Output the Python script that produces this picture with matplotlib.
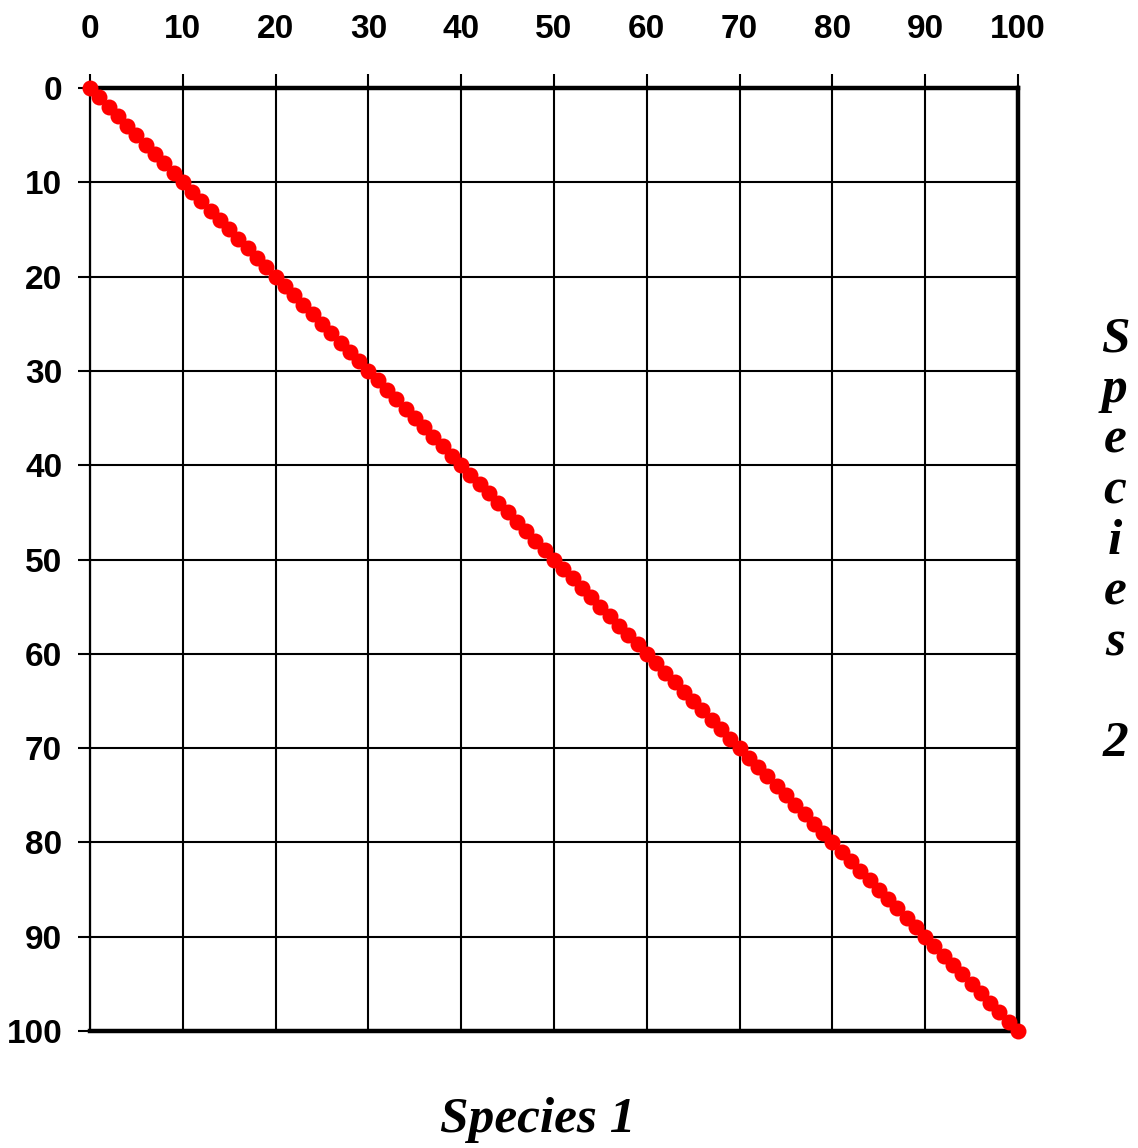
import matplotlib
matplotlib.use("Agg")
import matplotlib.pyplot as plt

# Data: abundance of species 1 vs species 2 (one point per unit)
species1 = [0, 1, 2, 3, 4, 5, 6, 7, 8, 9, 10, 11, 12, 13, 14, 15, 16, 17, 18, 19,
            20, 21, 22, 23, 24, 25, 26, 27, 28, 29, 30, 31, 32, 33, 34, 35, 36, 37, 38, 39,
            40, 41, 42, 43, 44, 45, 46, 47, 48, 49, 50, 51, 52, 53, 54, 55, 56, 57, 58, 59,
            60, 61, 62, 63, 64, 65, 66, 67, 68, 69, 70, 71, 72, 73, 74, 75, 76, 77, 78, 79,
            80, 81, 82, 83, 84, 85, 86, 87, 88, 89, 90, 91, 92, 93, 94, 95, 96, 97, 98, 99, 100]
species2 = [0, 1, 2, 3, 4, 5, 6, 7, 8, 9, 10, 11, 12, 13, 14, 15, 16, 17, 18, 19,
            20, 21, 22, 23, 24, 25, 26, 27, 28, 29, 30, 31, 32, 33, 34, 35, 36, 37, 38, 39,
            40, 41, 42, 43, 44, 45, 46, 47, 48, 49, 50, 51, 52, 53, 54, 55, 56, 57, 58, 59,
            60, 61, 62, 63, 64, 65, 66, 67, 68, 69, 70, 71, 72, 73, 74, 75, 76, 77, 78, 79,
            80, 81, 82, 83, 84, 85, 86, 87, 88, 89, 90, 91, 92, 93, 94, 95, 96, 97, 98, 99, 100]
ticks = [0, 10, 20, 30, 40, 50, 60, 70, 80, 90, 100]
tick_labels = ["0", "10", "20", "30", "40", "50", "60", "70", "80", "90", "100"]
xlabel = "Species 1"
ylabel_stacked = "S\np\ne\nc\ni\ne\ns\n \n2"

W, H = 1138, 1148
fig = plt.figure(figsize=(W / 100, H / 100), dpi=100)
ax = fig.add_axes([90 / W, 1 - 1031 / H, (1018 - 90) / W, (1031 - 88) / H])

ax.set_xlim(0, 100)
ax.set_ylim(100, 0)
ax.set_xticks(ticks)
ax.set_yticks(ticks)
ax.set_xticklabels(tick_labels)
ax.set_yticklabels(tick_labels)
ax.xaxis.tick_top()
ax.grid(True, color="black", linewidth=1.5)
ax.set_axisbelow(True)

for lab in ax.get_xticklabels() + ax.get_yticklabels():
    lab.set_fontfamily(["Liberation Sans", "DejaVu Sans"])
    lab.set_fontweight("bold")
    lab.set_fontsize(24)
ax.tick_params(axis="x", which="both", direction="out", length=10, width=1.5,
               pad=21, colors="black")
ax.tick_params(axis="y", which="both", direction="out", length=9, width=1.5,
               pad=11, colors="black")

ax.spines["left"].set_linewidth(1.6)
for s in ("top", "right", "bottom"):
    ax.spines[s].set_linewidth(3.2)

ax.plot(species1, species2, linestyle="none", marker="o", markersize=11.5,
        color="#FF0000", markeredgewidth=0, clip_on=False, zorder=5)

label_font = dict(family=["Liberation Serif", "DejaVu Serif"], weight="bold",
                  style="italic", size=37)
fig.text(538 / W, 1 - 1120 / H, xlabel, ha="center", va="center", **label_font)
fig.text(1115 / W, 1 - 542 / H, ylabel_stacked,
         ha="center", va="center", linespacing=1.13, **label_font)

fig.savefig("out.png", dpi=100)
